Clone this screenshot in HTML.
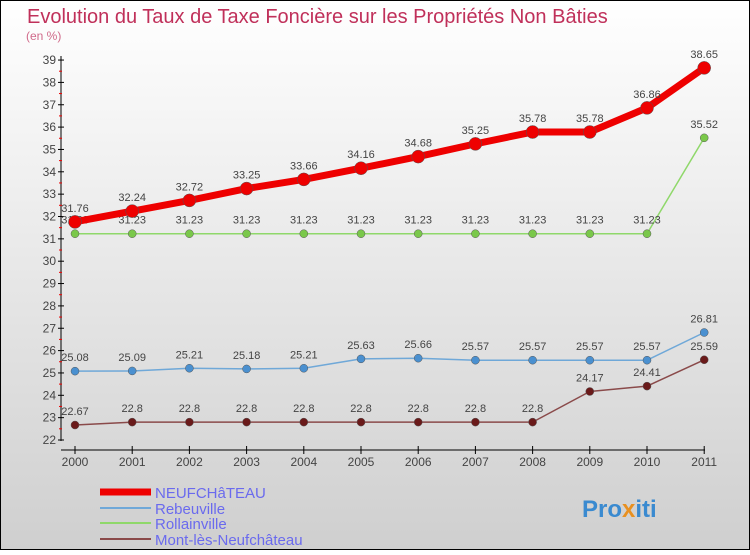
<!DOCTYPE html>
<html><head><meta charset="utf-8"><style>
body{margin:0}
svg text{font-family:"Liberation Sans",sans-serif}
</style></head><body>
<svg width="750" height="550" xmlns="http://www.w3.org/2000/svg">
<defs><linearGradient id="bg" x1="0" y1="0" x2="0" y2="1"><stop offset="0" stop-color="#ffffff"/><stop offset="1" stop-color="#cfcfcf"/></linearGradient></defs>
<rect x="0.5" y="0.5" width="749" height="549" fill="url(#bg)" stroke="#000"/>
<text x="27" y="23" font-size="20" fill="#c0305a">Evolution du Taux de Taxe Foncière sur les Propriétés Non Bâties</text>
<text x="26" y="40" font-size="12" fill="#d06a8a">(en %)</text>
<g id="axes"></g><g id="series"></g>
<g>
<line x1="100" y1="492" x2="151" y2="492" stroke="#e00" stroke-width="7"/>
<text x="155" y="498" font-size="15" fill="#6a6aee">NEUFCHâTEAU</text>
<line x1="100" y1="508" x2="151" y2="508" stroke="#6fa8d8" stroke-width="2"/>
<text x="155" y="514" font-size="15" fill="#6a6aee">Rebeuville</text>
<line x1="100" y1="523" x2="151" y2="523" stroke="#8fd86a" stroke-width="2"/>
<text x="155" y="529" font-size="15" fill="#6a6aee">Rollainville</text>
<line x1="100" y1="539" x2="151" y2="539" stroke="#8a4a4a" stroke-width="2"/>
<text x="155" y="545" font-size="15" fill="#6a6aee">Mont-lès-Neufchâteau</text>
</g>
<text x="582" y="517" font-size="24" font-weight="bold" fill="#3a8ad0">Pro<tspan fill="#e89020">x</tspan>iti</text>
</svg>
<script>
const years=[2000,2001,2002,2003,2004,2005,2006,2007,2008,2009,2010,2011];
const yTicks=[22,23,24,25,26,27,28,29,30,31,32,33,34,35,36,37,38,39];
const neuf=[31.76,32.24,32.72,33.25,33.66,34.16,34.68,35.25,35.78,35.78,36.86,38.65];
const rebe=[25.08,25.09,25.21,25.18,25.21,25.63,25.66,25.57,25.57,25.57,25.57,26.81];
const roll=[31.23,31.23,31.23,31.23,31.23,31.23,31.23,31.23,31.23,31.23,31.23,35.52];
const mont=[22.67,22.8,22.8,22.8,22.8,22.8,22.8,22.8,22.8,24.17,24.41,25.59];
const NS="http://www.w3.org/2000/svg";
const xs=i=>75+i*57.2, ys=v=>440-(v-22)*22.35;
function mk(tag,attrs,parent,txt){const e=document.createElementNS(NS,tag);for(const k in attrs)e.setAttribute(k,attrs[k]);if(txt!==undefined)e.textContent=txt;parent.appendChild(e);return e;}
const ax=document.getElementById('axes');
let e=mk('line',{x1:61,y1:56,x2:61,y2:441,stroke:'#000'},ax);


e=mk('line',{x1:61,y1:450,x2:705,y2:450,stroke:'#000'},ax);


yTicks.forEach((t,i)=>{const y=ys(t);
 mk('line',{x1:58,y1:y,x2:64,y2:y,stroke:'#000'},ax);
 if(i<yTicks.length-1)mk('line',{x1:59,y1:y-11.2,x2:62,y2:y-11.2,stroke:'#e00'},ax);
 e=mk('text',{x:56,y:y+4,'font-size':12,fill:'#444','text-anchor':'end'},ax,String(t));
 
 
});
years.forEach((yr,i)=>{const x=xs(i);
 mk('line',{x1:x,y1:446,x2:x,y2:454,stroke:'#000'},ax);
 e=mk('text',{x:x,y:466,'font-size':12,fill:'#444','text-anchor':'middle'},ax,String(yr));
 
 
});
const sg=document.getElementById('series');
function series(name,data,color,w,r,dot){
 const g=mk('g',{},sg);
 
 
 const pl=mk('polyline',{points:data.map((v,i)=>xs(i)+','+ys(v)).join(' '),fill:'none',stroke:color,'stroke-width':w,'stroke-linejoin':'round'},g);
 
 
 data.forEach((v,i)=>{
  const c=mk('circle',{cx:xs(i),cy:ys(v),r:r,fill:dot,stroke:'#555','stroke-width':0.5},g);
  
  
  const t=mk('text',{x:xs(i),y:ys(v)-10,'font-size':11,fill:'#444','text-anchor':'middle'},g,String(v));
  
  
 });
}
series('mont-les-neufchateau',mont,'#8a4a4a',1.5,4,'#6a1a1a');
series('rebeuville',rebe,'#6fa8d8',1.5,4,'#4a90d0');
series('rollainville',roll,'#8fd86a',1.5,4,'#7ac84a');
series('neufchateau',neuf,'#e00',7,6.5,'#e00');
</script>
</body></html>
